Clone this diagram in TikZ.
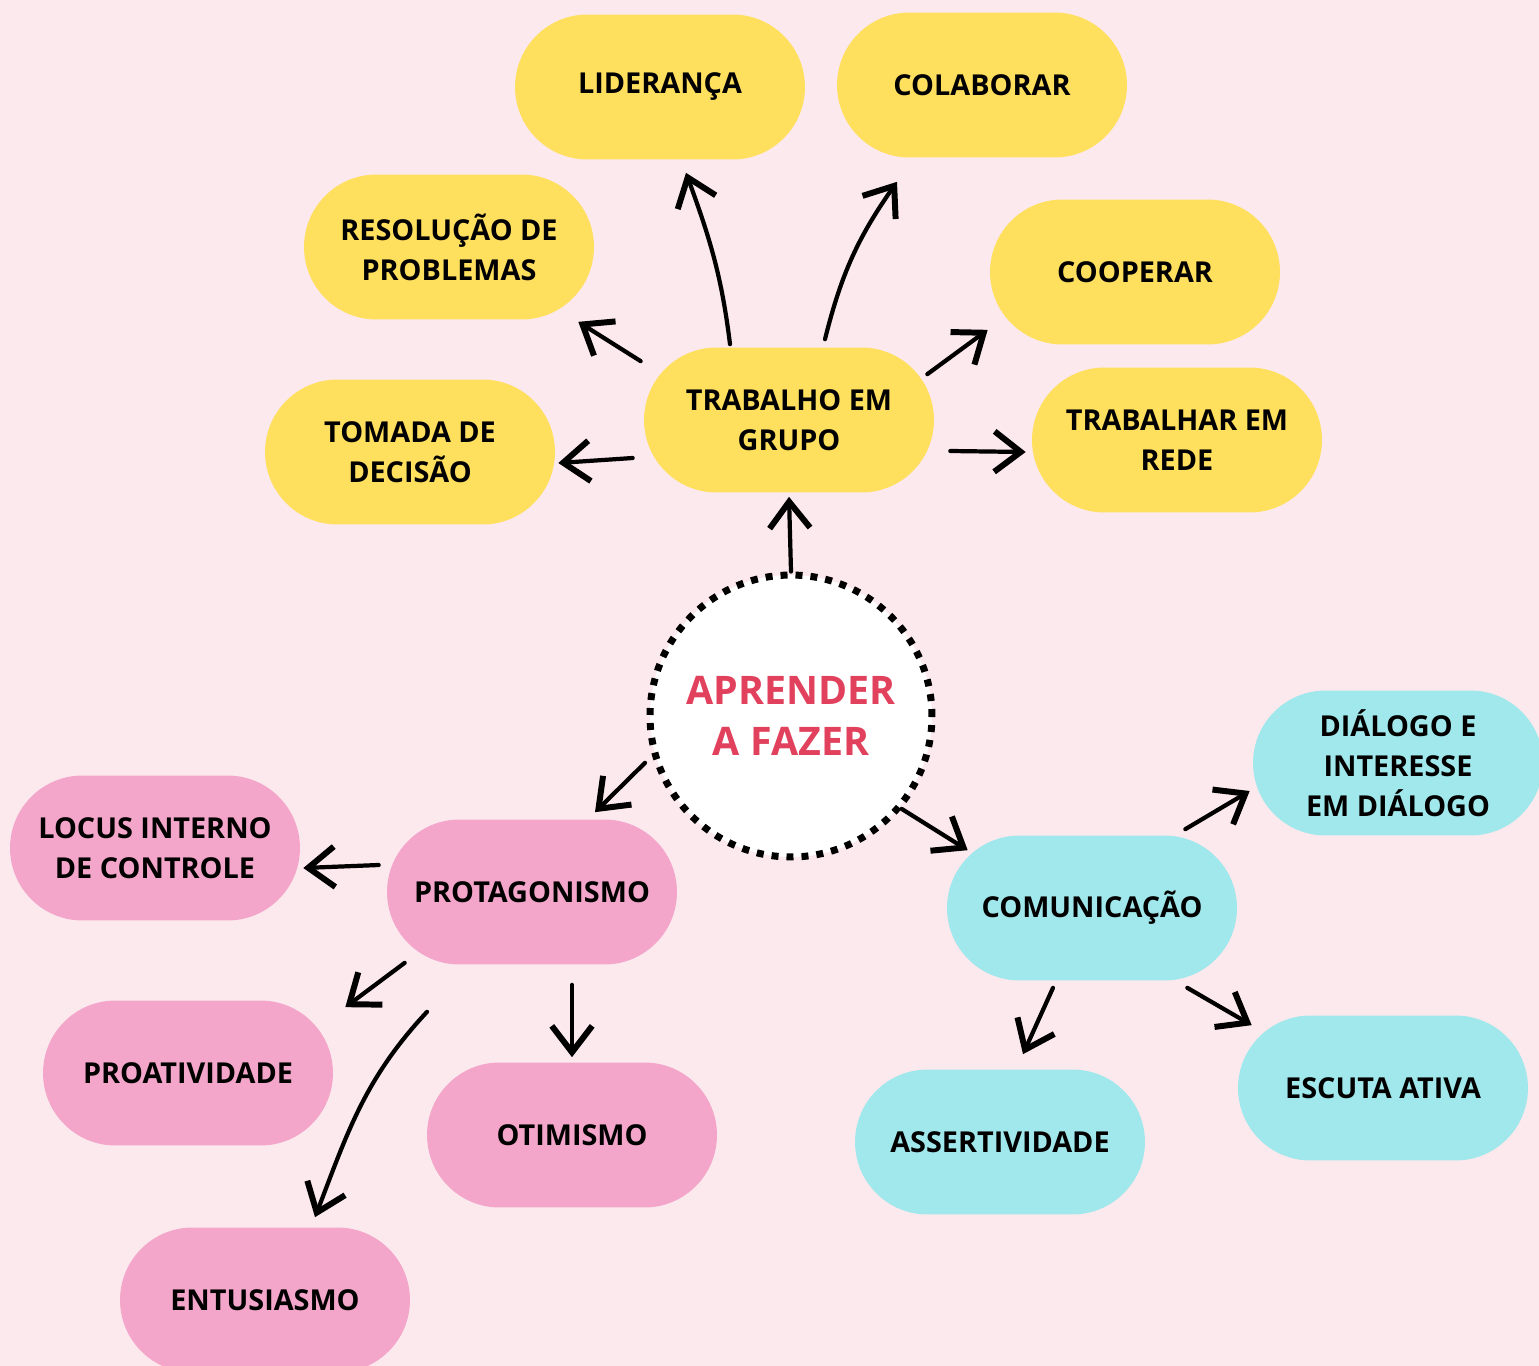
\documentclass[tikz,border=0pt]{standalone}
\usepackage{fontspec}
\setmainfont{Open Sans}
\usepackage{tikz}
\usetikzlibrary{arrows.meta}
\definecolor{bgpink}{RGB}{252,233,238}
\definecolor{sunyellow}{RGB}{255,223,94}
\definecolor{softpink}{RGB}{243,166,201}
\definecolor{aquablue}{RGB}{160,232,235}
\definecolor{titlered}{RGB}{225,65,92}

\begin{document}
\begin{tikzpicture}[x=0.02cm, y=0.02cm,
    pill/.style={rounded corners=1.45cm, minimum width=5.8cm, minimum height=2.9cm, align=center, inner sep=0pt, font=\fontsize{16.4}{22.7}\selectfont\bfseries},
    arrow/.style={-{Straight Barb[length=15pt, width=23pt, line width=3.4pt]}, line width=2.4pt, line cap=round}
]

\clip (0,0) rectangle (1539,-1366);
\fill[bgpink] (0,0) rectangle (1539,-1366);

% centre
\node[circle, draw, fill=white, line width=0.14cm, dash pattern=on 0.14cm off 0.16cm, minimum size=5.64cm, align=center, text=titlered, font=\fontsize{22.4}{29}\selectfont\bfseries] (core) at (791,-716) {APRENDER\\A FAZER};

% trabalho em grupo
\node[pill, fill=sunyellow] (tg) at (789,-420) {TRABALHO EM\\GRUPO};
\node[pill, fill=sunyellow] (lid) at (660,-87) {LIDERANÇA};
\node[pill, fill=sunyellow] (col) at (982,-85) {COLABORAR};
\node[pill, fill=sunyellow] (res) at (449,-247) {RESOLUÇÃO DE\\PROBLEMAS};
\node[pill, fill=sunyellow] (coop) at (1135,-272) {COOPERAR};
\node[pill, fill=sunyellow] (tom) at (410,-452) {TOMADA DE\\DECISÃO};
\node[pill, fill=sunyellow] (rede) at (1177,-440) {TRABALHAR EM\\REDE};

% protagonismo
\node[pill, fill=softpink] (prot) at (532,-892) {PROTAGONISMO};
\node[pill, fill=softpink] (loc) at (155,-848) {LOCUS INTERNO\\DE CONTROLE};
\node[pill, fill=softpink] (proa) at (188,-1073) {PROATIVIDADE};
\node[pill, fill=softpink] (otim) at (572,-1135) {OTIMISMO};
\node[pill, fill=softpink] (ent) at (265,-1300) {ENTUSIASMO};

% comunicacao
\node[pill, fill=aquablue] (com) at (1092,-908) {COMUNICAÇÃO};
\node[pill, fill=aquablue] (dial) at (1398,-763) {DIÁLOGO E\\INTERESSE\\EM DIÁLOGO};
\node[pill, fill=aquablue] (ass) at (1000,-1142) {ASSERTIVIDADE};
\node[pill, fill=aquablue] (esc) at (1383,-1088) {ESCUTA ATIVA};

% arrows
\draw[arrow] (core.north) -- ([yshift=-0.08cm]tg.south);
\draw[arrow] ([shift={(-11,-38)}]tg.west) -- ([shift={(3,-11)}]tom.east);
\draw[arrow] ([shift={(-3,-14)}]tg.north west) -- ([shift={(-16,-2)}]res.south east);
\draw[arrow] ([shift={(-59,3)}]tg.north) to[out=97, in=-70] ([shift={(26,-13)}]lid.south);
\draw[arrow] ([shift={(36,8)}]tg.north) to[out=76, in=-125] ([shift={(-85,-24)}]col.south);
\draw[arrow] ([shift={(-7,-27)}]tg.north east) -- ([shift={(-2,15)}]coop.south west);
\draw[arrow] ([shift={(16,-31)}]tg.east) -- ([shift={(-6,-12)}]rede.west);

\draw[arrow, shorten <=0.2cm] (core.196) -- ([shift={(63,7)}]prot.north);
\draw[arrow] (core.-40) -- ([shift={(21,-15)}]com.north west);

\draw[arrow] ([shift={(-8,27)}]prot.west) -- ([shift={(3,-20)}]loc.east);
\draw[arrow] ([shift={(18,2)}]prot.south west) -- ([shift={(12,-7)}]proa.north east);
\draw[arrow] ([shift={(-105,-47)}]prot.south) to[out=-133, in=69] ([shift={(50,10)}]ent.north);
\draw[arrow] ([shift={(40,-20)}]prot.south) -- ([shift={(0,5)}]otim.north);

\draw[arrow] ([shift={(-52,6)}]com.north east) -- ([shift={(-3,-28)}]dial.west);
\draw[arrow] ([shift={(-39,-7)}]com.south) -- ([shift={(23,15)}]ass.north);
\draw[arrow] ([shift={(-50,-7)}]com.south east) -- ([shift={(14,-10)}]esc.north west);

\end{tikzpicture}
\end{document}
